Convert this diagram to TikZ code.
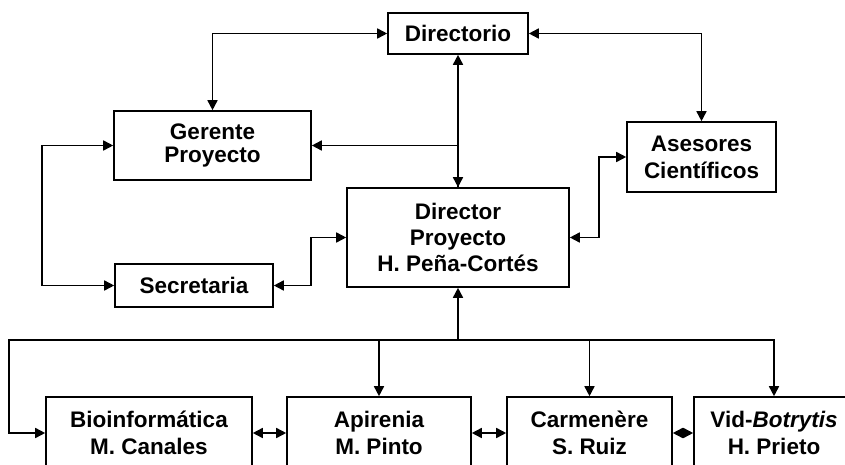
\documentclass[tikz,border=0pt]{standalone}
\usepackage{fontspec}
\setmainfont{Liberation Sans}
\usepackage{tikz}
\usetikzlibrary{positioning}
\usetikzlibrary{arrows.meta}

\begin{document}
\begin{tikzpicture}[x=1pt, y=-1pt,
  box/.style={draw=black, line width=1.6pt, fill=white, align=center, inner sep=0pt,
    font=\bfseries\fontsize{22.5}{26}\selectfont},
  link/.style={black, line width=1.6pt},
  tip/.tip={Triangle[length=10pt, width=10pt]}]

\useasboundingbox (0,0) rectangle (845,465);
\clip (0,0) rectangle (845,465);

% boxes
{
\node[box, minimum width=140pt, minimum height=41pt] (directorio) at (458,33.5) {Directorio};
\node[box, minimum width=197pt, minimum height=69pt] (gerente) at (212.5,145.5) {Gerente\\[-3pt]Proyecto};
\node[box, minimum width=149pt, minimum height=70pt] (asesores) at (701.5,157) {Asesores\\[1pt]Cient\'ificos};
\node[box, minimum width=222pt, minimum height=99pt] (director) at (458,237.5) {Director\\Proyecto\\H. Pe\~na-Cort\'es};
\node[box, minimum width=158pt, minimum height=43pt] (secretaria) at (194,285.5) {Secretaria};

\node[box, minimum width=206pt, minimum height=72pt] (bio) at (149,433) {Bioinform\'atica\\[1pt]M. Canales};
\node[box, minimum width=184pt, minimum height=72pt] (api) at (379,433) {Apirenia\\[1pt]M. Pinto};
\node[box, minimum width=165pt, minimum height=72pt] (carm) at (589.5,433) {Carmen\`ere\\[1pt]S. Ruiz};
\node[box, minimum width=160pt, minimum height=72pt] (vid) at (774,433) {Vid-\textit{Botrytis}\\[1pt]H. Prieto};
}

% upper links
{
\draw[link, tip-tip] (directorio.west) -| (gerente.north);
\draw[link, tip-tip] (directorio.east) -| (asesores.north);
\draw[link, tip-tip] (directorio.south) -- (director.north);
\draw[link, -tip] (director.north) |- (gerente.east);

\draw[link, tip-tip] (gerente.west) -- ++(-71,0) |- (secretaria.west);
\draw[link, tip-tip] (secretaria.east) -- ++(37,0) |- (director.west);
\draw[link, tip-tip] (asesores.west) -- ++(-27,0) |- (director.east);
}

% lower links
{
\coordinate (bus) at (458,340);
\coordinate (busl) at (9,340);

\draw[link, -tip] (bus) -- (director.south);
\draw[link, -tip] (bus) -| (api.north);
\draw[link, -tip] (bus) -| (carm.north);
\draw[link, -tip] (bus) -| (vid.north);
\draw[link, -tip] (bus) -- (busl) |- (bio.west);

\draw[link, tip-tip] (bio.east) -- (api.west);
\draw[link, tip-tip] (api.east) -- (carm.west);
\draw[link, tip-tip] (carm.east) -- (vid.west);
}

\end{tikzpicture}
\end{document}
